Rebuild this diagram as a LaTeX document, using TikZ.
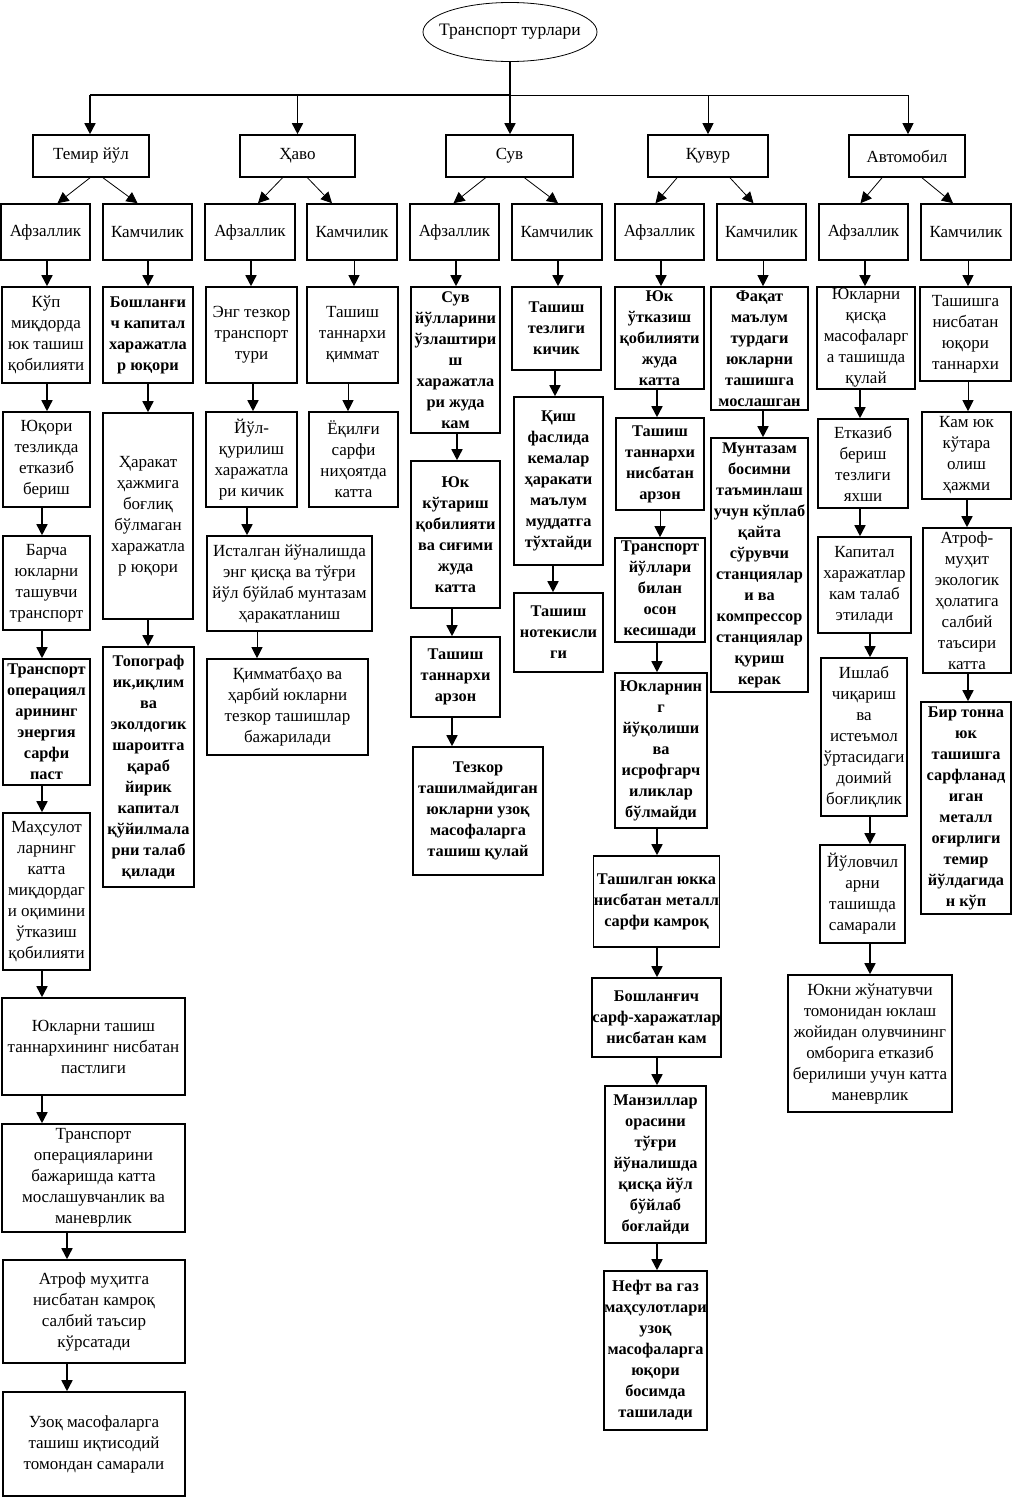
\documentclass[tikz,border=0pt]{standalone}
\usepackage{fontspec}
\setmainfont{Liberation Serif}
\usetikzlibrary{arrows.meta,shapes.geometric}
\tikzset{
 box/.style={draw,line width=1.6pt,align=center,inner xsep=0.5pt,inner ysep=1pt,font=\fontsize{17}{21}\selectfont},
 bb/.style={font=\fontsize{16.3}{21}\selectfont\bfseries},
 arr/.style={line width=1.6pt,-{Triangle[length=11pt,width=11pt]}},
 tarr/.style={line width=0.8pt,-{Triangle[length=11pt,width=11pt]}},
}
\newcommand\bx[7][]{\node[box,minimum width={(#5-#3)*1pt},minimum height={(#6-#4)*1pt},#1] (#2) at ({(#3+#5)/2},{(#4+#6)/2}) {#7};}
\newcommand\dn[3]{\draw[arr] (#1.south -| #3,0) -- (#2.north -| #3,0);}
\newcommand\tdn[3]{\draw[tarr] (#1.south -| #3,0) -- (#2.north -| #3,0);}
\begin{document}
\begin{tikzpicture}[x=1pt,y=-1pt]
\useasboundingbox (0,0) rectangle (1014,1499);
% root
\node[minimum width=174pt,minimum height=60pt,inner sep=0pt,font=\fontsize{17.5}{21}\selectfont] (root) at (510,32) {Транспорт турлари};
\draw[line width=0.8pt] (root.center) ellipse [x radius=87, y radius=29.5];
% level 1
\bx{tem}{33}{135}{149}{177}{Темир йўл}
\bx{hav}{240}{135}{355}{177}{Ҳаво}
\bx{suv}{446}{135}{573}{177}{Сув}
\bx{quv}{648}{135}{768}{177}{Қувур}
\bx{avt}{849}{135}{965}{177}{Автомобил}
% bar
\coordinate (bl) at (90,95);
\coordinate (br) at (908,95);
\draw[line width=1.6pt] (root.south) -- (root.south |- bl);
\draw[line width=1.6pt] (bl) -- (root.south |- bl);
\draw[line width=0.8pt] (root.south |- bl) -- (br);
\draw[arr] (bl) -- (tem.north -| bl);
\draw[arr] (hav.north |- bl) -- (hav.north);
\draw[arr] (root.south |- bl) -- (suv.north -| root.south);
\draw[tarr] (quv.north |- bl) -- (quv.north);
\draw[tarr] (br) -- (avt.north -| br);
% level 2
\bx{tafz}{1}{204}{90}{260}{Афзаллик}
\bx{tkam}{103}{204}{192}{260}{Камчилик}
\bx{hafz}{205}{204}{295}{260}{Афзаллик}
\bx{hkam}{307}{204}{397}{260}{Камчилик}
\bx{safz}{410}{204}{499}{260}{Афзаллик}
\bx{skam}{512}{204}{602}{260}{Камчилик}
\bx{qafz}{615}{204}{704}{260}{Афзаллик}
\bx{qkam}{717}{204}{806}{260}{Камчилик}
\bx{aafz}{819}{204}{908}{260}{Афзаллик}
\bx{akam}{921}{204}{1011}{260}{Камчилик}
% diagonals
\draw[tarr] ([xshift=-1]tem.south) -- ([xshift=12]tafz.north);
\draw[tarr] ([xshift=12]tem.south) -- ([xshift=-10]tkam.north);
\draw[tarr] ([xshift=-15]hav.south) -- ([xshift=8]hafz.north);
\draw[tarr] ([xshift=10]hav.south) -- ([xshift=-20]hkam.north);
\draw[tarr] ([xshift=-24]suv.south) -- ([xshift=-1]safz.north);
\draw[tarr] ([xshift=15]suv.south) -- ([xshift=1]skam.north);
\draw[tarr] ([xshift=-31]quv.south) -- ([xshift=-4]qafz.north);
\draw[tarr] ([xshift=22]quv.south) -- ([xshift=-8]qkam.north);
\draw[tarr] ([xshift=-25]avt.south) -- ([xshift=-3]aafz.north);
\draw[tarr] ([xshift=15]avt.south) -- ([xshift=-13]akam.north);
% column 1
\bx{a1}{2}{287}{90}{383}{Кўп\\миқдорда\\юк ташиш\\қобилияти}
\bx{a2}{3}{412}{90}{507}{Юқори\\тезликда\\етказиб\\бериш}
\bx{a3}{3}{536}{90}{630}{Барча\\юкларни\\ташувчи\\транспорт}
\bx[bb]{a4}{3}{659}{90}{785}{Транспорт\\операциял\\арининг\\энергия\\сарфи\\паст}
\bx{a5}{3}{813}{90}{970}{Маҳсулот\\ларнинг\\катта\\миқдордаг\\и оқимини\\ўтказиш\\қобилияти}
\bx{a6}{2}{998}{185}{1095}{Юкларни ташиш\\таннархининг нисбатан\\пастлиги}
\bx{a7}{2}{1124}{185}{1232}{Транспорт\\операцияларини\\бажаришда катта\\мослашувчанлик ва\\маневрлик}
\bx{a8}{3}{1260}{185}{1363}{Атроф муҳитга\\нисбатан камроқ\\салбий таъсир\\кўрсатади}
\bx{a9}{3}{1392}{185}{1496}{Узоқ масофаларга\\ташиш иқтисодий\\томондан самарали}
\dn{tafz}{a1}{47}
\dn{a1}{a2}{47}
\dn{a2}{a3}{42}
\dn{a3}{a4}{42}
\dn{a4}{a5}{42}
\dn{a5}{a6}{42}
\dn{a6}{a7}{42}
\dn{a7}{a8}{67}
\dn{a8}{a9}{67}
% column 2
\bx[bb]{b1}{103}{287}{193}{383}{Бошланғи\\ч капитал\\харажатла\\р юқори}
\bx{b2}{103}{413}{193}{619}{Ҳаракат\\ҳажмига\\боғлиқ\\бўлмаган\\харажатла\\р юқори}
\bx[bb]{b3}{103}{647}{194}{887}{Топограф\\ик,иқлим\\ва\\эколдогик\\шароитга\\қараб\\йирик\\капитал\\қўйилмала\\рни талаб\\қилади}
\dn{tkam}{b1}{148}
\dn{b1}{b2}{148}
\dn{b2}{b3}{148}
% column 3
\bx{c1}{206}{287}{297}{383}{Энг тезкор\\транспорт\\тури}
\bx{c2}{206}{412}{297}{507}{Йўл-\\қурилиш\\харажатла\\ри кичик}
\bx{c3}{207}{536}{372}{631}{Исталган йўналишда\\энг қисқа ва тўғри\\йўл бўйлаб мунтазам\\ҳаракатланиш}
\bx{c4}{207}{659}{368}{755}{Қимматбаҳо ва\\ҳарбий юкларни\\тезкор ташишлар\\бажарилади}
\dn{hafz}{c1}{251}
\dn{c1}{c2}{253}
\dn{c2}{c3}{247}
\tdn{c3}{c4}{257}
% column 4
\bx{d1}{307}{287}{398}{383}{Ташиш\\таннархи\\қиммат}
\bx{d2}{309}{412}{398}{507}{Ёқилғи\\сарфи\\ниҳоятда\\катта}
\tdn{hkam}{d1}{354}
\tdn{d1}{d2}{348}
% column 5
\bx[bb]{e1}{411}{287}{500}{433}{Сув\\йўлларини\\ўзлаштири\\ш\\харажатла\\ри жуда\\кам}
\bx[bb]{e2}{411}{461}{500}{608}{Юк\\кўтариш\\қобилияти\\ва сиғими\\жуда\\катта}
\bx[bb]{e3}{411}{637}{500}{717}{Ташиш\\таннархи\\арзон}
\bx[bb]{e4}{413}{747}{543}{875}{Тезкор\\ташилмайдиган\\юкларни узоқ\\масофаларга\\ташиш қулай}
\dn{safz}{e1}{456}
\dn{e1}{e2}{457}
\dn{e2}{e3}{452}
\dn{e3}{e4}{452}
% column 6
\bx[bb]{f1}{512}{287}{601}{370}{Ташиш\\тезлиги\\кичик}
\bx[bb]{f2}{514}{397}{603}{565}{Қиш\\фаслида\\кемалар\\ҳаракати\\маълум\\муддатга\\тўхтайди}
\bx[bb]{f3}{514}{593}{603}{672}{Ташиш\\нотекисли\\ги}
\dn{skam}{f1}{558}
\dn{f1}{f2}{555}
\dn{f2}{f3}{553}
% column 7
\bx[bb]{g1}{615}{287}{704}{389}{Юк\\ўтказиш\\қобилияти\\жуда\\катта}
\bx[bb]{g2}{616}{418}{704}{510}{Ташиш\\таннархи\\нисбатан\\арзон}
\bx[bb]{g3}{615}{538}{705}{642}{Транспорт\\йўллари\\билан\\осон\\кесишади}
\bx[bb]{g4}{615}{673}{707}{828}{Юкларнин\\г\\йўқолиши\\ва\\исрофгарч\\иликлар\\бўлмайди}
\bx[bb]{g5}{595}{856}{718}{947}{Ташилган юкка\\нисбатан металл\\сарфи камроқ}
\bx[bb]{g6}{595}{978}{718}{1057}{Бошланғич\\сарф-харажатлар\\нисбатан кам}
\bx[bb]{g7}{605}{1086}{706}{1243}{Манзиллар\\орасини\\тўғри\\йўналишда\\қисқа йўл\\бўйлаб\\боғлайди}
\bx[bb]{g8}{605}{1271}{706}{1430}{Нефт ва газ\\маҳсулотлари\\узоқ\\масофаларга\\юқори\\босимда\\ташилади}
\dn{qafz}{g1}{661}
\dn{g1}{g2}{657}
\tdn{g2}{g3}{660}
\dn{g3}{g4}{657}
\dn{g4}{g5}{657}
\dn{g5}{g6}{657}
\dn{g6}{g7}{657}
\dn{g7}{g8}{657}
% column 8
\bx[bb]{h1}{711}{287}{808}{410}{Фақат\\маълум\\турдаги\\юкларни\\ташишга\\мослашган}
\bx[bb]{h2}{711}{438}{808}{692}{Мунтазам\\босимни\\таъминлаш\\учун кўплаб\\қайта\\сўрувчи\\станциялар\\и ва\\компрессор\\станциялар\\қуриш\\керак}
\tdn{qkam}{h1}{763}
\dn{h1}{h2}{763}
% column 9
\bx{i1}{817}{287}{915}{389}{Юкларни\\қисқа\\масофаларг\\а ташишда\\қулай}
\bx{i2}{818}{419}{908}{508}{Етказиб\\бериш\\тезлиги\\яхши}
\bx{i3}{818}{537}{911}{633}{Капитал\\харажатлар\\кам талаб\\этилади}
\bx{i4}{821}{658}{907}{816}{Ишлаб\\чиқариш\\ва\\истеъмол\\ўртасидаги\\доимий\\боғлиқлик}
\bx{i5}{820}{845}{905}{943}{Йўловчил\\арни\\ташишда\\самарали}
\bx{i6}{788}{975}{952}{1112}{Юкни жўнатувчи\\томонидан юклаш\\жойидан олувчининг\\омборига етказиб\\берилиши учун катта\\маневрлик}
\dn{aafz}{i1}{865}
\dn{i1}{i2}{860}
\dn{i2}{i3}{860}
\dn{i3}{i4}{870}
\dn{i4}{i5}{870}
\dn{i5}{i6}{870}
% column 10
\bx{j1}{920}{287}{1011}{381}{Ташишга\\нисбатан\\юқори\\таннархи}
\bx{j2}{922}{412}{1011}{499}{Кам юк\\кўтара\\олиш\\ҳажми}
\bx{j3}{923}{528}{1011}{673}{Атроф-\\муҳит\\экологик\\ҳолатига\\салбий\\таъсири\\катта}
\bx[bb]{j4}{921}{702}{1011}{914}{Бир тонна\\юк\\ташишга\\сарфланад\\иган\\металл\\оғирлиги\\темир\\йўлдагида\\н кўп}
\tdn{akam}{j1}{968}
\tdn{j1}{j2}{968}
\dn{j2}{j3}{967}
\dn{j3}{j4}{968}
\end{tikzpicture}
\end{document}
